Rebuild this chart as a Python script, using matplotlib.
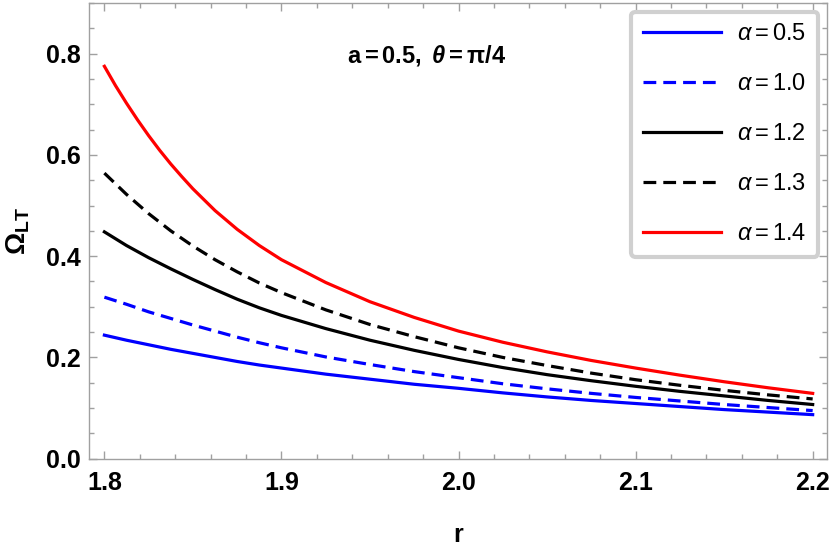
import matplotlib
matplotlib.use('Agg')
import matplotlib.pyplot as plt
from matplotlib.ticker import MultipleLocator

plt.rcParams['font.family'] = ['Liberation Sans', 'DejaVu Sans']
plt.rcParams['mathtext.fontset'] = 'custom'
plt.rcParams['mathtext.rm'] = 'Liberation Sans'
plt.rcParams['mathtext.it'] = 'Liberation Sans:italic'
plt.rcParams['mathtext.bf'] = 'Liberation Sans:bold'
plt.rcParams['mathtext.bfit'] = 'Liberation Sans:bold:italic'

# values
r = [1.8, 1.8125, 1.825, 1.8375, 1.85, 1.8625, 1.875, 1.8875, 1.9, 1.925, 1.95,
     1.975, 2.0, 2.025, 2.05, 2.075, 2.1, 2.125, 2.15, 2.175, 2.2]
omega_a05 = [0.244, 0.234, 0.225, 0.216, 0.208, 0.200, 0.192, 0.185, 0.179, 0.167, 0.157,
             0.147, 0.139, 0.130, 0.122, 0.115, 0.109, 0.103, 0.097, 0.092, 0.087]
omega_a10 = [0.319, 0.305, 0.290, 0.277, 0.264, 0.252, 0.240, 0.229, 0.219, 0.201, 0.186,
             0.172, 0.160, 0.148, 0.138, 0.129, 0.121, 0.114, 0.107, 0.101, 0.095]
omega_a12 = [0.448, 0.421, 0.397, 0.375, 0.354, 0.334, 0.315, 0.298, 0.283, 0.257, 0.234,
             0.214, 0.196, 0.180, 0.166, 0.154, 0.143, 0.133, 0.124, 0.115, 0.107]
omega_a13 = [0.564, 0.522, 0.484, 0.450, 0.420, 0.393, 0.369, 0.347, 0.328, 0.294, 0.265,
             0.241, 0.219, 0.200, 0.184, 0.169, 0.156, 0.145, 0.135, 0.126, 0.118]
# the red curve bends hardest, so it was read more densely near r=1.8
r_red = [1.8, 1.80625, 1.8125, 1.81875, 1.825, 1.83125, 1.8375, 1.84375, 1.85, 1.8625,
         1.875, 1.8875, 1.9, 1.925, 1.95, 1.975, 2.0, 2.025, 2.05, 2.075, 2.1, 2.125,
         2.15, 2.175, 2.2]
omega_a14 = [0.775, 0.737, 0.702, 0.669, 0.638, 0.609, 0.582, 0.557, 0.533, 0.490,
             0.453, 0.421, 0.393, 0.348, 0.310, 0.279, 0.252, 0.230, 0.211, 0.194, 0.179,
             0.165, 0.152, 0.140, 0.129]
labels = [r'$\alpha=\mathrm{0.5}$', r'$\alpha=\mathrm{1.0}$', r'$\alpha=\mathrm{1.2}$',
          r'$\alpha=\mathrm{1.3}$', r'$\alpha=\mathrm{1.4}$']
xticks = [1.8, 1.9, 2.0, 2.1, 2.2]
yticks = [0.0, 0.2, 0.4, 0.6, 0.8]

fig = plt.figure(figsize=(8.34, 5.46), dpi=100)
ax = fig.add_axes([0.1067, 0.1599, 0.8845, 0.8346])

lw = 2.3
ax.plot(r, omega_a05, color='#0000ff', lw=lw, label=labels[0])
ax.plot(r, omega_a10, color='#0000ff', lw=lw, dashes=(4, 2.2), label=labels[1])
ax.plot(r, omega_a12, color='black', lw=lw, label=labels[2])
ax.plot(r, omega_a13, color='black', lw=lw, dashes=(4, 2.2), label=labels[3])
ax.plot(r_red, omega_a14, color='#ff0000', lw=lw, label=labels[4])

ax.set_xlim(1.7913, 2.2079)
ax.set_ylim(0, 0.9)
ax.set_xticks(xticks)
ax.set_yticks(yticks)
ax.set_xticklabels([f'{v:.1f}' for v in xticks])
ax.set_yticklabels([f'{v:.1f}' for v in yticks])
ax.xaxis.set_minor_locator(MultipleLocator(0.02))
ax.yaxis.set_minor_locator(MultipleLocator(0.05))

for s in ax.spines.values():
    s.set_color('#a0a0a0')
    s.set_linewidth(1.0)
ax.tick_params(which='both', direction='in', top=True, right=True, color='#a0a0a0', width=1)
ax.tick_params(which='major', length=6)
ax.tick_params(which='minor', length=3.5)
ax.tick_params(axis='y', labelsize=18, pad=6)
ax.tick_params(axis='x', labelsize=18, pad=9)
for t in ax.get_xticklabels() + ax.get_yticklabels():
    t.set_fontweight('bold')

ax.set_xlabel('r', fontsize=18, fontweight='bold', labelpad=20)
ax.set_ylabel(r'$\mathbf{\Omega_{LT}}$', fontsize=20, labelpad=10)

ax.text(0.3495, 0.885, r'$\mathbf{a=0.5,}\ \mathbfit{\theta}\mathbf{=\pi/4}$',
        transform=ax.transAxes, fontsize=17, ha='left', va='center')

leg = ax.legend(loc='upper right', bbox_to_anchor=(0.9886, 0.981), borderaxespad=0,
                fontsize=17, handlelength=3.3, handletextpad=0.7, labelspacing=1.18,
                borderpad=0.5, fancybox=True, framealpha=1)
leg.get_frame().set_edgecolor('#d0d0d0')
leg.get_frame().set_linewidth(3)

fig.savefig('out.png', dpi=100)
